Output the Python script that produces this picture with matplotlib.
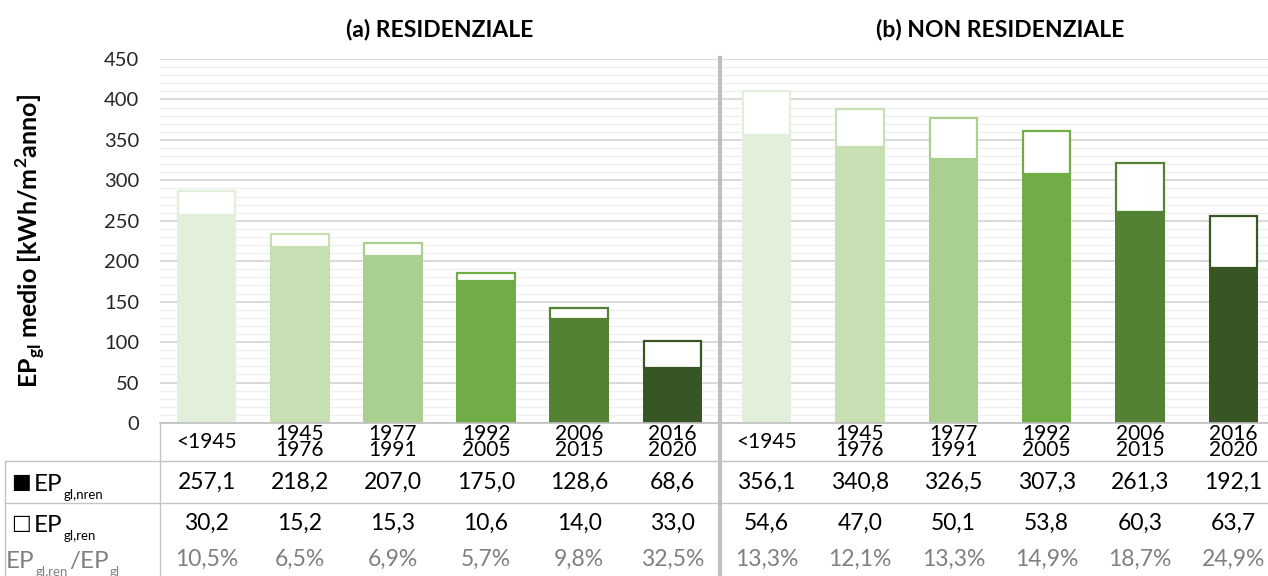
import matplotlib
matplotlib.use("Agg")
import matplotlib.pyplot as plt
from matplotlib.lines import Line2D
from matplotlib.transforms import blended_transform_factory

plt.rcParams['font.family'] = ['Lato', 'DejaVu Sans']

# data
periods = ["<1945", "1945\n1976", "1977\n1991", "1992\n2005", "2006\n2015", "2016\n2020"]
res_nren = [257.1, 218.2, 207.0, 175.0, 128.6, 68.6]
res_ren = [30.2, 15.2, 15.3, 10.6, 14.0, 33.0]
res_ratio = ["10,5%", "6,5%", "6,9%", "5,7%", "9,8%", "32,5%"]
nonres_nren = [356.1, 340.8, 326.5, 307.3, 261.3, 192.1]
nonres_ren = [54.6, 47.0, 50.1, 53.8, 60.3, 63.7]
nonres_ratio = ["13,3%", "12,1%", "13,3%", "14,9%", "18,7%", "24,9%"]
panel_titles = ["(a) RESIDENZIALE", "(b) NON RESIDENZIALE"]
colors = ["#E2EFDA", "#C6E0B4", "#A9D08E", "#70AD47", "#548235", "#375623"]
y_ticks = list(range(0, 451, 50))

W, H = 1268, 576


def fx(x):
    return x / W


def fy(y):
    return 1 - y / H


def fmt(v):
    return f"{v:.1f}".replace(".", ",")


fig = plt.figure(figsize=(W / 100, H / 100), dpi=100)

ax_l = fig.add_axes([fx(160), fy(423), 559 / W, 364 / H])
ax_r = fig.add_axes([fx(720), fy(423), 560 / W, 364 / H])

panels = [
    (ax_l, res_nren, res_ren, res_ratio, 0.64),
    (ax_r, nonres_nren, nonres_ren, nonres_ratio, 0.53),
]

num_size = 16.5

for k, (ax, nren, ren, ratio, bw) in enumerate(panels):
    x = list(range(len(periods)))
    ax.bar(x, nren, width=bw, color=colors, zorder=2)
    ax.bar(x, ren, bottom=nren, width=bw - 0.02, color="white",
           edgecolor=colors, linewidth=1.6, zorder=2)
    ax.set_xlim(-0.5, 5.5)
    ax.set_ylim(0, 450)
    ax.set_yticks(y_ticks)
    ax.set_yticks(range(0, 451, 10), minor=True)
    ax.grid(which="minor", axis="y", color="#F0F0F0", lw=1.0, zorder=0)
    ax.grid(which="major", axis="y", color="#D9D9D9", lw=1.4, zorder=0)
    ax.set_xticks([])
    ax.tick_params(which="both", length=0, labelsize=14.5, pad=15,
                   labelcolor="#262626")
    if k == 1:
        ax.set_yticklabels([])
    for s in ax.spines.values():
        s.set_visible(False)

    bt = blended_transform_factory(ax.transData, fig.transFigure)
    ax.text(2.5, fy(30), panel_titles[k], transform=bt, ha="center",
            va="center", fontsize=16.5, fontweight="bold")
    for i in x:
        ax.text(i, fy(442), periods[i], transform=bt, ha="center",
                va="center", fontsize=15, linespacing=0.8)
        ax.text(i, fy(482), fmt(nren[i]), transform=bt, ha="center",
                va="center", fontsize=num_size)
        ax.text(i, fy(523), fmt(ren[i]), transform=bt, ha="center",
                va="center", fontsize=num_size)
        ax.text(i, fy(559), ratio[i], transform=bt, ha="center",
                va="center", fontsize=num_size, color="#808080")

# y axis title
fig.text(fx(30), fy(241), r"EP$_{\mathregular{gl}}$ medio [kWh/m$^{\mathregular{2}}$anno]",
         rotation=90, ha="center", va="center", fontsize=18, fontweight="bold")

# table lines
line_c = "#C4C4C4"
for (x0, y0, x1, y1, lw, c) in [
    (160, 423, W, 423, 1.2, "#BFBFBF"),
    (5, 461, W, 461, 1.0, line_c),
    (5, 503, W, 503, 1.0, line_c),
    (5, 461, 5, H, 1.0, line_c),
    (160, 423, 160, H, 1.0, line_c),
    (720, 58, 720, H, 3.0, "#BFBFBF"),
]:
    fig.add_artist(Line2D([fx(x0), fx(x1)], [fy(y0), fy(y1)], lw=lw, color=c,
                          transform=fig.transFigure))

# row labels with small subscripts
renderer = fig.canvas.get_renderer()


def chain(x, y, parts, color):
    for txt, size, dy in parts:
        t = fig.text(fx(x), fy(y + dy), txt, fontsize=size, color=color,
                     ha="left", va="baseline")
        bb = t.get_window_extent(renderer)
        x = x + bb.width + 1


fig.text(fx(11), fy(482), "\u25A0", family="DejaVu Sans", fontsize=15,
         ha="left", va="center")
fig.text(fx(11), fy(523), "\u25A1", family="DejaVu Sans", fontsize=15,
         ha="left", va="center")
chain(34, 491, [("EP", 17.5, 0), ("gl,nren", 9.5, 8)], "black")
chain(34, 532, [("EP", 17.5, 0), ("gl,ren", 9.5, 8)], "black")
chain(6, 568, [("EP", 17.5, 0), ("gl,ren", 9.5, 8), ("/EP", 17.5, 0), ("gl", 9.5, 8)], "#808080")

fig.savefig("out.png", dpi=100)
